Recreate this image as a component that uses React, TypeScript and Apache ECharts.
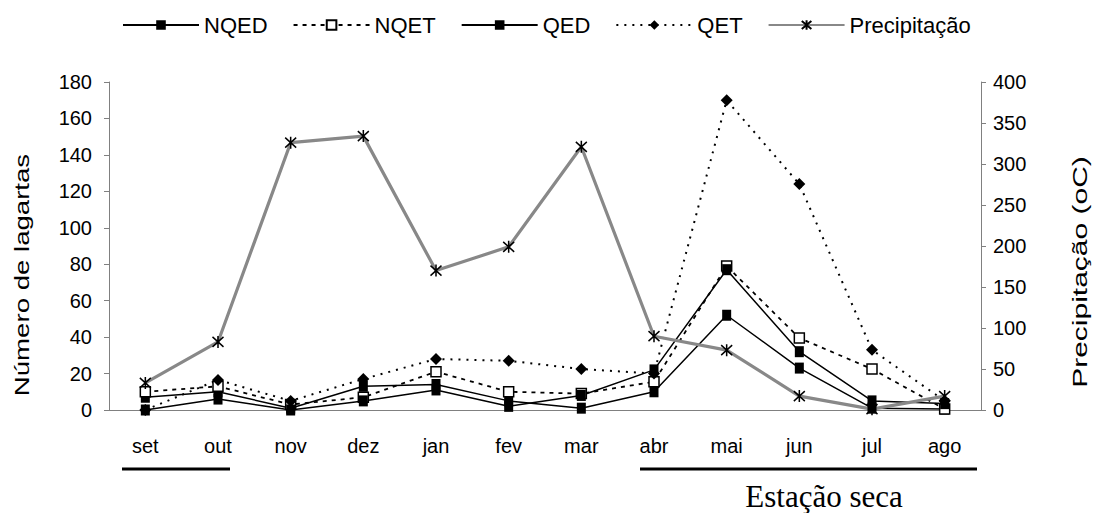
import React, { useEffect, useRef } from "react";
import * as echarts from "echarts";

const months = ["set", "out", "nov", "dez", "jan", "fev", "mar", "abr", "mai", "jun", "jul", "ago"];
const nqed = [7, 10, 1, 13, 14, 5, 1, 10, 52, 23, 1, 0.5];
const nqet = [10, 13, 3, 7, 21, 10, 9, 15.5, 79, 39.5, 22.5, 0.5];
const qed = [0, 6, 0, 5, 11, 2, 8, 22, 77, 32, 5, 3.5];
const qet = [0, 16.5, 5, 17, 28, 27, 22.5, 20, 170, 124, 33, 5];
const precip = [33, 83, 326, 334, 170, 199, 321, 90, 73, 17, 1, 17];

const SANS = "'Liberation Sans', Arial, sans-serif";
const SERIF = "'Liberation Serif', 'Times New Roman', serif";
const STAR = "path://M0,0L10,10M10,0L0,10M5,-1L5,11";

export default function App() {
  const ref = useRef<HTMLDivElement>(null);
  useEffect(() => {
    if (!ref.current) return;
    const chart = echarts.init(ref.current, null, { renderer: "svg" });
    const axisGray = "#808080";
    chart.setOption({
      animation: false,
      backgroundColor: "#ffffff",
      textStyle: { fontFamily: SANS, color: "#000" },
      grid: { left: 109, right: 112, top: 82, bottom: 103, containLabel: false },
      legend: {
        left: 117,
        top: 9,
        itemWidth: 76,
        itemHeight: 12,
        itemGap: 25,
        textStyle: { fontSize: 22, color: "#000", fontFamily: SANS },
        data: ["NQED", "NQET", "QED", "QET", "Precipitação"],
      },
      xAxis: {
        type: "category",
        data: months,
        boundaryGap: true,
        axisLine: { lineStyle: { color: axisGray, width: 1 } },
        axisTick: { show: false },
        axisLabel: { fontSize: 20, color: "#000", margin: 26, fontFamily: SANS },
        splitLine: { show: false },
      },
      yAxis: [
        {
          type: "value",
          min: 0,
          max: 180,
          interval: 20,
          axisLine: { show: true, lineStyle: { color: axisGray, width: 1 } },
          axisTick: { show: true, length: 5, lineStyle: { color: axisGray } },
          axisLabel: { fontSize: 20, color: "#000", margin: 17, fontFamily: SANS },
          splitLine: { show: false },
        },
        {
          type: "value",
          min: 0,
          max: 400,
          interval: 50,
          position: "right",
          axisLine: { show: true, lineStyle: { color: axisGray, width: 1 } },
          axisTick: { show: true, length: 5, lineStyle: { color: axisGray } },
          axisLabel: { fontSize: 20, color: "#000", margin: 12, fontFamily: SANS },
          splitLine: { show: false },
        },
      ],
      series: [
        {
          name: "NQED",
          type: "line",
          data: nqed,
          symbol: "rect",
          symbolSize: [9, 11],
          lineStyle: { color: "#000", width: 1.5 },
          itemStyle: { color: "#000" },
        },
        {
          name: "NQET",
          type: "line",
          data: nqet,
          symbol: "rect",
          symbolSize: [10, 10],
          lineStyle: { color: "#000", width: 1.8, type: [4, 5] },
          itemStyle: { color: "#fff", borderColor: "#000", borderWidth: 1.5 },
        },
        {
          name: "QED",
          type: "line",
          data: qed,
          symbol: "rect",
          symbolSize: [9, 11],
          lineStyle: { color: "#000", width: 1.5 },
          itemStyle: { color: "#000" },
        },
        {
          name: "QET",
          type: "line",
          data: qet,
          symbol: "diamond",
          symbolSize: [12, 12],
          lineStyle: { color: "#000", width: 2, type: [2, 6] },
          itemStyle: { color: "#000" },
        },
        {
          name: "Precipitação",
          type: "line",
          yAxisIndex: 1,
          data: precip,
          symbol: STAR,
          symbolSize: [11, 12],
          lineStyle: { color: "#888888", width: 3.2 },
          itemStyle: { color: "#000", borderColor: "#000", borderWidth: 1.6 },
        },
      ],
      graphic: [
        {
          type: "text",
          x: 22,
          y: 275,
          rotation: Math.PI / 2,
          scaleX: 1.38,
          style: {
            text: "Número de lagartas",
            font: `20px ${SANS}`,
            fill: "#000",
            align: "center",
            verticalAlign: "middle",
          },
        },
        {
          type: "text",
          x: 1080,
          y: 272,
          rotation: Math.PI / 2,
          scaleX: 1.5,
          style: {
            text: "Precipitação (oC)",
            font: `20px ${SANS}`,
            fill: "#000",
            align: "center",
            verticalAlign: "middle",
          },
        },
        {
          type: "line",
          shape: { x1: 122, y1: 469, x2: 230, y2: 469 },
          style: { stroke: "#000", lineWidth: 3 },
        },
        {
          type: "line",
          shape: { x1: 640, y1: 469, x2: 977, y2: 469 },
          style: { stroke: "#000", lineWidth: 3 },
        },
        {
          type: "text",
          x: 824,
          y: 496,
          style: {
            text: "Estação seca",
            font: `31px ${SERIF}`,
            fill: "#000",
            align: "center",
            verticalAlign: "middle",
          },
        },
      ],
    });
    return () => chart.dispose();
  }, []);
  return (
    <div
      ref={ref}
      style={{ position: "absolute", left: 0, top: 0, width: 1093, height: 513, background: "#fff" }}
    />
  );
}
